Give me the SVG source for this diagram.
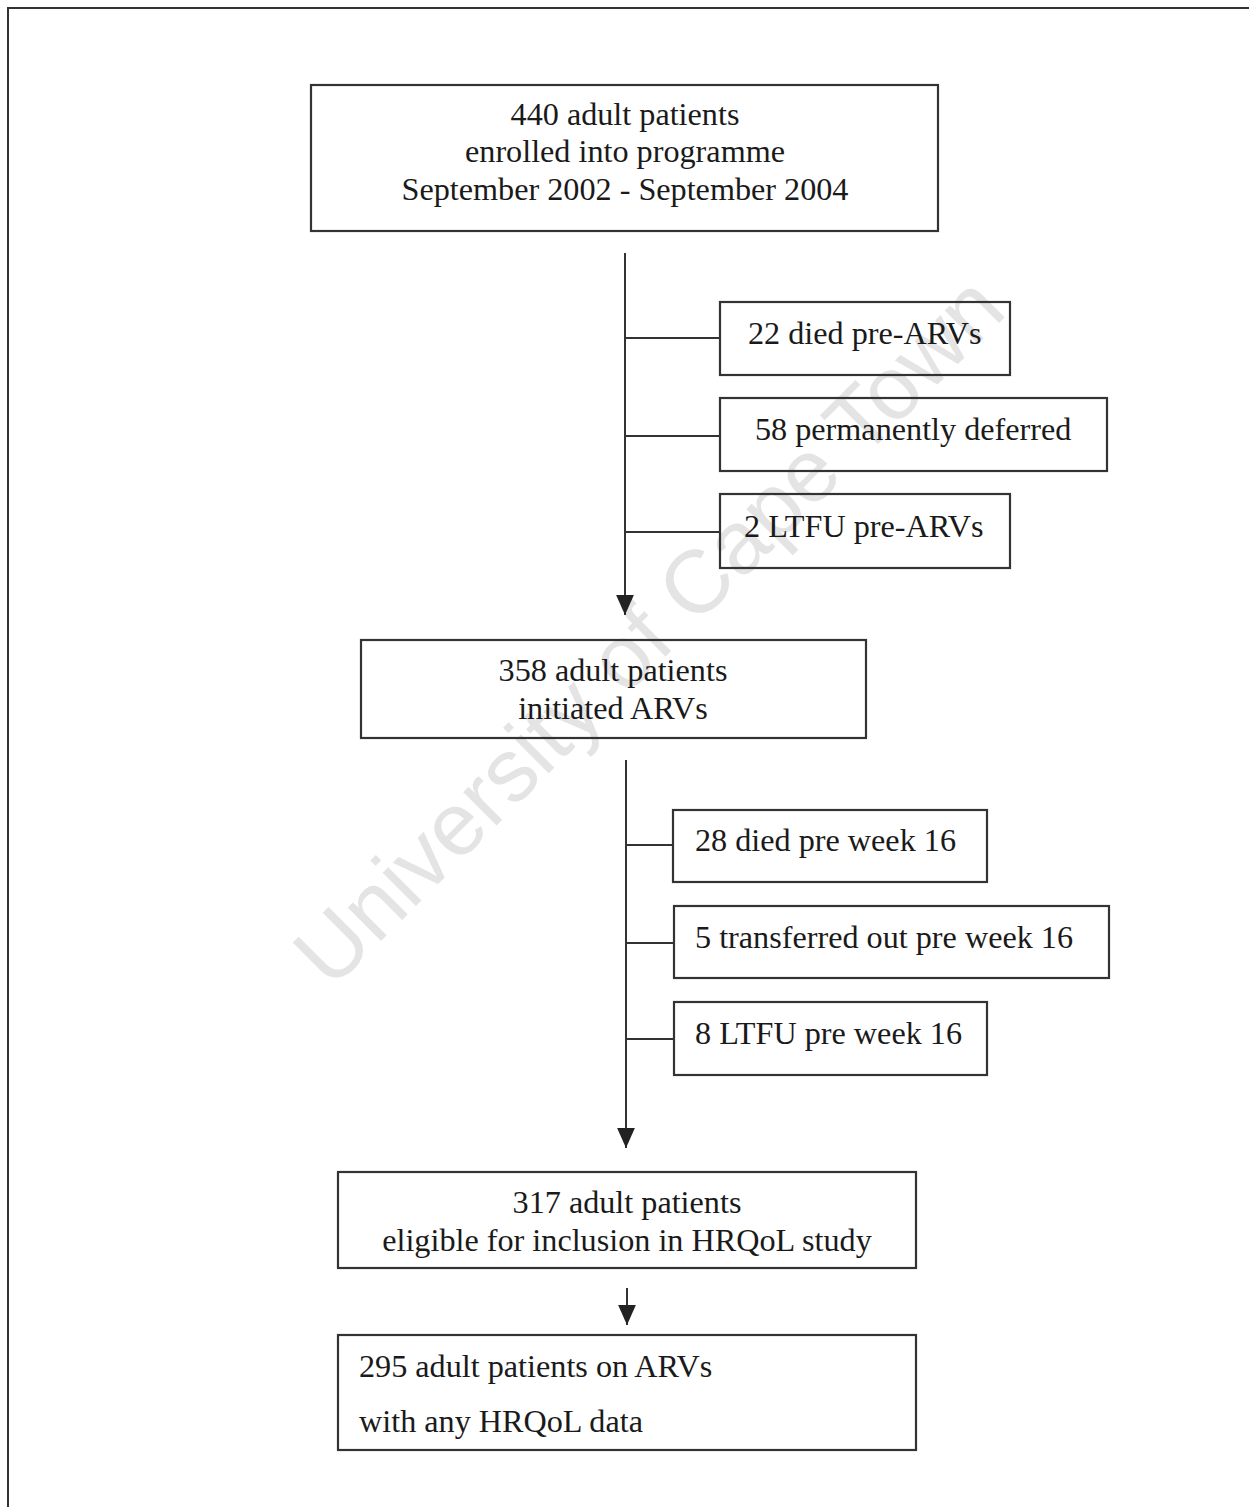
<svg xmlns="http://www.w3.org/2000/svg" width="1249" height="1507" viewBox="0 0 1249 1507">
<style>
.box{fill:none;stroke:#333;stroke-width:2.2}
.ln{fill:none;stroke:#333;stroke-width:2}
.t{font-family:"Liberation Serif","Times New Roman",serif;font-size:32.2px;fill:#1a1a1a}
.c{text-anchor:middle}
.wm{font-family:"Liberation Sans",Arial,sans-serif;font-size:89px;fill:#e4e4e4;text-anchor:middle}
</style>
<defs>
<marker id="ah" markerUnits="userSpaceOnUse" markerWidth="20" markerHeight="18" refX="18" refY="8" orient="auto" viewBox="0 0 18 16">
<path d="M0,0 L18,8 L0,16 Z" fill="#222"/>
</marker>
</defs>
<rect width="1249" height="1507" fill="#fff"/>
<path class="ln" d="M8,1507 V8 H1249"/>
<text class="wm" transform="translate(670,652) rotate(-45)">University of Cape Town</text>
<g id="connectors">
<line class="ln" x1="625" y1="253" x2="625" y2="615" marker-end="url(#ah)"/>
<line class="ln" x1="625" y1="338" x2="720" y2="338"/>
<line class="ln" x1="625" y1="436" x2="720" y2="436"/>
<line class="ln" x1="625" y1="532" x2="720" y2="532"/>
<line class="ln" x1="626" y1="760" x2="626" y2="1148" marker-end="url(#ah)"/>
<line class="ln" x1="626" y1="845" x2="673" y2="845"/>
<line class="ln" x1="626" y1="943" x2="674" y2="943"/>
<line class="ln" x1="626" y1="1039" x2="674" y2="1039"/>
<line class="ln" x1="627" y1="1288" x2="627" y2="1325" marker-end="url(#ah)"/>
</g>
<g id="n1"><rect class="box" x="311" y="85" width="627" height="146"/>
<text class="t c" x="625" y="125">440 adult patients</text>
<text class="t c" x="625" y="162">enrolled into programme</text>
<text class="t c" x="625" y="200">September 2002 - September 2004</text></g>
<g id="n2"><rect class="box" x="720" y="302" width="290" height="73"/>
<text class="t" x="748" y="344">22 died pre-ARVs</text></g>
<g id="n3"><rect class="box" x="720" y="398" width="387" height="73"/>
<text class="t" x="755" y="440">58 permanently deferred</text></g>
<g id="n4"><rect class="box" x="720" y="494" width="290" height="74"/>
<text class="t" x="744" y="537">2 LTFU pre-ARVs</text></g>
<g id="n5"><rect class="box" x="361" y="640" width="505" height="98"/>
<text class="t c" x="613" y="681">358 adult patients</text>
<text class="t c" x="613" y="719">initiated ARVs</text></g>
<g id="n6"><rect class="box" x="673" y="810" width="314" height="72"/>
<text class="t" x="695" y="851">28 died pre week 16</text></g>
<g id="n7"><rect class="box" x="674" y="906" width="435" height="72"/>
<text class="t" x="695" y="948">5 transferred out pre week 16</text></g>
<g id="n8"><rect class="box" x="674" y="1002" width="313" height="73"/>
<text class="t" x="695" y="1044">8 LTFU pre week 16</text></g>
<g id="n9"><rect class="box" x="338" y="1172" width="578" height="96"/>
<text class="t c" x="627" y="1213">317 adult patients</text>
<text class="t c" x="627" y="1251">eligible for inclusion in HRQoL study</text></g>
<g id="n10"><rect class="box" x="338" y="1335" width="578" height="115"/>
<text class="t" x="359" y="1377">295 adult patients on ARVs</text>
<text class="t" x="359" y="1432">with any HRQoL data</text></g>
</svg>
